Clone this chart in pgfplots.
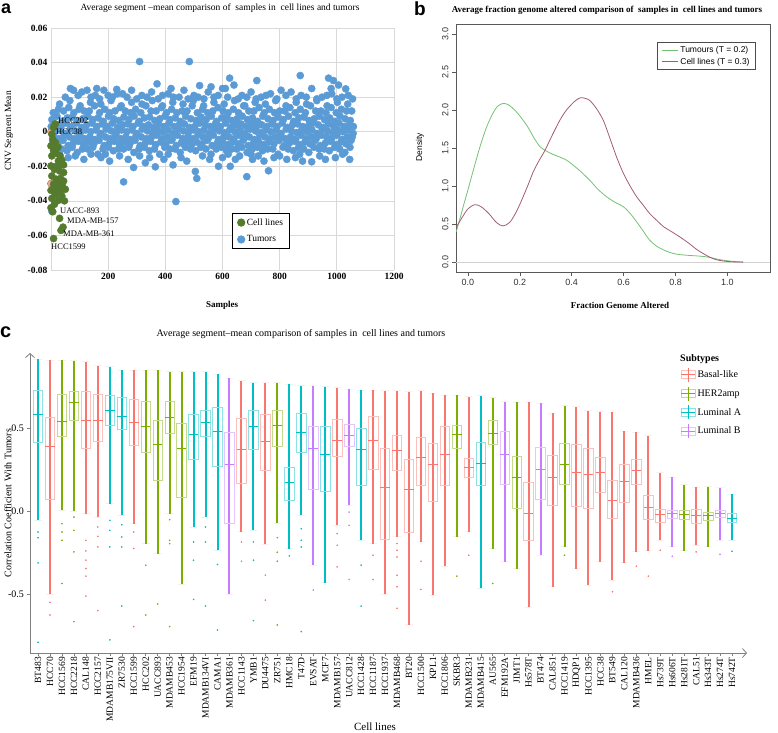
\documentclass[border=0pt]{standalone}
\usepackage{fontspec}
\setmainfont{Liberation Serif}
\setsansfont{Liberation Sans}
\usepackage{pgfplots}
\pgfplotsset{compat=1.18}
\usepgfplotslibrary{statistics}
\usetikzlibrary{arrows.meta}
\definecolor{xlblue}{HTML}{5B9BD5}
\definecolor{xlgreen}{HTML}{557B2F}
\definecolor{xlorange}{HTML}{E9967A}
\definecolor{rgreen}{HTML}{74C274}
\definecolor{rmaroon}{HTML}{A35B70}
\definecolor{cR}{HTML}{F8766D}
\definecolor{cG}{HTML}{7CAE00}
\definecolor{cA}{HTML}{00BFC4}
\definecolor{cB}{HTML}{C77CFF}
\pgfplotsset{dl/.style={line width=2pt, forget plot}}
\newcommand{\cb}[8]{%
  \addplot[forget plot, draw=#2, fill=#2, mark=*, mark size=0.6pt,
    boxplot prepared={draw position=#1, lower whisker=#3, lower quartile=#4,
      median=#5, upper quartile=#6, upper whisker=#7, box extend=0.8},
    boxplot/every box/.style={draw=#2!45!white, fill=none, line width=0.7pt},
    boxplot/every median/.style={draw=#2, line width=1pt},
    boxplot/every whisker/.style={draw=none}] coordinates {#8};
}
\begin{document}
\begin{tikzpicture}
\useasboundingbox (0pt,0pt) rectangle (778pt,-732pt);
% ---------------- panel a ----------------
\begin{axis}[at={(51pt,-270pt)}, anchor=south west, scale only axis,
  width=343pt, height=242pt, xmin=0, xmax=1200, ymin=-0.08, ymax=0.06,
  axis line style={draw=none}, grid=major, grid style={gray!30, line width=0.7pt},
  xtick={0,200,400,600,800,1000,1200}, xticklabels={,200,400,600,800,1000,1200},
  ytick={-0.08,-0.06,-0.04,-0.02,0,0.02,0.04,0.06},
  yticklabels={-0.08,-0.06,-0.04,-0.02,0,0.02,0.04,0.06},
  scaled y ticks=false, scaled x ticks=false,
  major tick length=0pt, ticklabel style={font=\bfseries\fontsize{9.5}{11}\selectfont},
  clip=false, reverse legend,
  legend style={at={(axis description cs:0.528,0.2355)}, anchor=north west,
    draw=black, line width=1pt, font=\fontsize{9.5}{11}\selectfont,
    inner xsep=5pt, inner ysep=3pt, row sep=5pt, legend cell align=left}]
\addplot[only marks, mark=*, mark size=3.6pt, color=xlblue, mark options={draw=none, fill=xlblue}] coordinates {
(8,0.011) (26,0.013) (44,0.012) (62,0.014) (80,0.011) (98,0.013) (116,0.012) (134,0.012) (152,0.015) (170,0.011)
(188,0.013) (206,0.011) (224,0.012) (242,0.014) (260,0.012) (278,0.011) (296,0.013) (314,0.011) (332,0.015) (350,0.012)
(368,0.012) (386,0.014) (404,0.011) (422,0.013) (440,0.011) (458,0.012) (476,0.012) (494,0.015) (512,0.011) (530,0.013)
(548,0.011) (566,0.012) (584,0.014) (602,0.012) (620,0.011) (638,0.013) (656,0.011) (674,0.015) (692,0.012) (710,0.012)
(728,0.014) (746,0.011) (764,0.013) (782,0.011) (800,0.012) (818,0.012) (836,0.014) (854,0.011) (872,0.013) (890,0.011)
(908,0.015) (926,0.012) (944,0.012) (962,0.011) (980,0.014) (998,0.011) (1016,0.013) (1034,0.012) (1052,0.012)
(3,0.007) (21,0.009) (39,0.006) (57,0.008) (75,0.0085) (93,0.0065) (111,0.0075) (129,0.009) (147,0.007) (165,0.008)
(183,0.006) (201,0.009) (219,0.0075) (237,0.0065) (255,0.0085) (273,0.007) (291,0.009) (309,0.006) (327,0.008) (345,0.0085)
(363,0.0065) (381,0.0075) (399,0.009) (417,0.007) (435,0.008) (453,0.006) (471,0.009) (489,0.0075) (507,0.0065) (525,0.0085)
(543,0.007) (561,0.009) (579,0.006) (597,0.008) (615,0.0085) (633,0.0065) (651,0.0075) (669,0.009) (687,0.007) (705,0.008)
(723,0.006) (741,0.009) (759,0.0075) (777,0.0065) (795,0.0085) (813,0.007) (831,0.009) (849,0.006) (867,0.008) (885,0.0085)
(903,0.0065) (921,0.0075) (939,0.009) (957,0.007) (975,0.008) (993,0.006) (1011,0.009) (1029,0.0075) (1047,0.0065)
(17,0.004) (35,0.003) (53,0.005) (71,0.003) (89,0.005) (107,0.0025) (125,0.004) (143,0.005) (161,0.003) (179,0.0045)
(197,0.003) (215,0.005) (233,0.0025) (251,0.004) (269,0.0045) (287,0.003) (305,0.005) (323,0.003) (341,0.004) (359,0.0025)
(377,0.0045) (395,0.003) (413,0.005) (431,0.003) (449,0.004) (467,0.0045) (485,0.0025) (503,0.003) (521,0.005) (539,0.004)
(557,0.003) (575,0.0045) (593,0.003) (611,0.005) (629,0.0025) (647,0.004) (665,0.0045) (683,0.003) (701,0.005) (719,0.003)
(737,0.004) (755,0.003) (773,0.0045) (791,0.003) (809,0.005) (827,0.0025) (845,0.004) (863,0.0045) (881,0.003) (899,0.003)
(917,0.005) (935,0.004) (953,0.0025) (971,0.0045) (989,0.003) (1007,0.005) (1025,0.003) (1043,0.004) (1058,0.003)
(13,0.000) (31,0.001) (49,-0.001) (67,0.0015) (85,0.0005) (103,-0.0005) (121,0.001) (139,0.000) (157,0.001) (175,-0.001)
(193,0.0015) (211,0.0005) (229,-0.0005) (247,0.001) (265,0.000) (283,0.001) (301,-0.001) (319,0.0015) (337,0.0005) (355,-0.0005)
(373,0.001) (391,0.000) (409,0.001) (427,-0.001) (445,0.0015) (463,0.0005) (481,-0.0005) (499,0.001) (517,0.000) (535,0.001)
(553,-0.001) (571,0.0015) (589,0.0005) (607,-0.0005) (625,0.001) (643,0.000) (661,0.001) (679,-0.001) (697,0.0015) (715,0.0005)
(733,-0.0005) (751,0.001) (769,0.000) (787,0.001) (805,-0.001) (823,0.0015) (841,0.0005) (859,-0.0005) (877,0.001) (895,0.000)
(913,0.001) (931,-0.001) (949,0.0015) (967,0.0005) (985,-0.0005) (1003,0.001) (1021,0.000) (1039,0.001) (1057,-0.001)
(10,-0.003) (28,-0.004) (46,-0.002) (64,-0.003) (82,-0.004) (100,-0.002) (118,-0.004) (136,-0.003) (154,-0.0045) (172,-0.002)
(190,-0.003) (208,-0.004) (226,-0.002) (244,-0.004) (262,-0.003) (280,-0.0045) (298,-0.002) (316,-0.003) (334,-0.004) (352,-0.003)
(370,-0.002) (388,-0.004) (406,-0.003) (424,-0.0045) (442,-0.002) (460,-0.004) (478,-0.003) (496,-0.004) (514,-0.002) (532,-0.003)
(550,-0.004) (568,-0.002) (586,-0.0045) (604,-0.003) (622,-0.003) (640,-0.004) (658,-0.002) (676,-0.004) (694,-0.003) (712,-0.0045)
(730,-0.002) (748,-0.003) (766,-0.004) (784,-0.003) (802,-0.002) (820,-0.004) (838,-0.003) (856,-0.0045) (874,-0.002) (892,-0.004)
(910,-0.003) (928,-0.004) (946,-0.002) (964,-0.003) (982,-0.004) (1000,-0.002) (1018,-0.0045) (1036,-0.003) (1054,-0.003)
(6,-0.006) (24,-0.007) (42,-0.005) (60,-0.008) (78,-0.0065) (96,-0.0055) (114,-0.0075) (132,-0.006) (150,-0.007) (168,-0.005)
(186,-0.008) (204,-0.0065) (222,-0.0055) (240,-0.0075) (258,-0.006) (276,-0.007) (294,-0.005) (312,-0.008) (330,-0.0065) (348,-0.0055)
(366,-0.0075) (384,-0.006) (402,-0.007) (420,-0.005) (438,-0.008) (456,-0.0065) (474,-0.0055) (492,-0.0075) (510,-0.006) (528,-0.007)
(546,-0.005) (564,-0.008) (582,-0.0065) (600,-0.0055) (618,-0.0075) (636,-0.006) (654,-0.007) (672,-0.005) (690,-0.008) (708,-0.0065)
(726,-0.0055) (744,-0.0075) (762,-0.006) (780,-0.007) (798,-0.005) (816,-0.008) (834,-0.0065) (852,-0.0055) (870,-0.0075) (888,-0.006)
(906,-0.007) (924,-0.005) (942,-0.008) (960,-0.0065) (978,-0.0055) (996,-0.0075) (1014,-0.006) (1032,-0.007) (1050,-0.005)
(20,-0.009) (38,-0.010) (56,-0.011) (74,-0.009) (92,-0.012) (110,-0.010) (128,-0.010) (146,-0.009) (164,-0.013) (182,-0.010)
(200,-0.009) (218,-0.011) (236,-0.010) (254,-0.010) (272,-0.009) (290,-0.012) (308,-0.010) (326,-0.009) (344,-0.011) (362,-0.010)
(380,-0.013) (398,-0.009) (416,-0.010) (434,-0.010) (452,-0.012) (470,-0.009) (488,-0.010) (506,-0.011) (524,-0.009) (542,-0.010)
(560,-0.013) (578,-0.010) (596,-0.009) (614,-0.011) (632,-0.010) (650,-0.010) (668,-0.009) (686,-0.012) (704,-0.010) (722,-0.009)
(740,-0.011) (758,-0.010) (776,-0.010) (794,-0.013) (812,-0.009) (830,-0.010) (848,-0.011) (866,-0.009) (884,-0.010) (902,-0.012)
(920,-0.009) (938,-0.010) (956,-0.010) (974,-0.011) (992,-0.009) (1010,-0.010) (1028,-0.012) (1046,-0.009)
(30,0.016) (66,0.018) (102,0.015) (138,0.017) (174,0.016) (210,0.018) (246,0.015) (282,0.017) (318,0.016) (354,0.018)
(390,0.015) (426,0.017) (462,0.016) (498,0.018) (534,0.015) (570,0.017) (606,0.016) (642,0.018) (678,0.015) (714,0.017)
(750,0.016) (786,0.018) (822,0.015) (858,0.017) (894,0.016) (930,0.018) (966,0.015) (1002,0.017) (1038,0.016)
(50,0.020) (68,0.025) (79,0.024) (95,0.021) (108,0.023) (126,0.024) (140,0.020) (155,0.021) (170,0.019) (185,0.024)
(200,0.021) (215,0.020) (232,0.022) (250,0.022) (266,0.020) (282,0.024) (300,0.019) (318,0.021) (336,0.020) (352,0.023)
(375,0.019) (390,0.021) (410,0.022) (428,0.020) (448,0.020) (465,0.024) (480,0.019) (500,0.021) (515,0.020) (535,0.019)
(550,0.023) (570,0.020) (585,0.021) (600,0.025) (618,0.020) (640,0.027) (655,0.019) (668,0.021) (685,0.020) (700,0.023)
(718,0.019) (735,0.020) (752,0.021) (768,0.022) (790,0.019) (805,0.024) (822,0.021) (840,0.023) (858,0.019) (875,0.021)
(893,0.020) (912,0.025) (930,0.019) (948,0.020) (965,0.021) (982,0.022) (1000,0.019) (1018,0.020) (1040,0.021) (1055,0.019)
(310,0.0406) (484,0.0406) (625,0.031) (720,0.0296) (872,0.0325) (971,0.031) (988,0.0296) (1006,0.027) (1031,0.0248)
(371,0.0277) (520,0.0267) (610,0.025) (560,0.026) (420,0.025) (230,0.0245) (160,0.025) (980,0.025)
(30,-0.013) (60,-0.015) (85,-0.014) (115,-0.016) (140,-0.013) (175,-0.015) (205,-0.017) (240,-0.014) (254,-0.029) (270,-0.016)
(289,-0.0207) (310,-0.014) (330,-0.018) (345,-0.015) (365,-0.0203) (395,-0.016) (427,-0.0192) (437,-0.0404) (455,-0.015) (475,-0.017)
(505,-0.023) (510,-0.027) (530,-0.014) (555,-0.016) (586,-0.020) (600,-0.015) (627,-0.020) (645,-0.016) (660,-0.014) (685,-0.026)
(705,-0.016) (725,-0.014) (745,-0.017) (761,-0.0226) (780,-0.015) (800,-0.014) (825,-0.016) (855,-0.015) (880,-0.017) (912,-0.0174)
(940,-0.014) (960,-0.016) (995,-0.015) (1020,-0.013) (1045,-0.016) (190,-0.013) (410,-0.013) (620,-0.013) (870,-0.013) (700,-0.013)
(1,0.003) (3,-0.046)
};
\addlegendentry{Tumors}
\addplot[only marks, mark=*, mark size=3.6pt, color=xlorange, mark options={draw=xlorange!70!black, fill=xlorange, fill opacity=0.8}, forget plot] coordinates {(0,0) (0,-0.030)};
\addplot[only marks, mark=*, mark size=3.6pt, color=xlgreen, mark options={draw=none, fill=xlgreen}] coordinates {
(15,0.0045) (9,0.0025) (3,-0.0014) (6,-0.0043) (15,-0.0062) (0,-0.0082) (24,-0.009) (9,-0.011) (18,-0.0126) (3,-0.014)
(32,-0.014) (26,-0.0169) (38,-0.0165) (32,-0.0188) (21,-0.0198) (0,-0.0198) (44,-0.0192) (12,-0.0217) (30,-0.0227) (44,-0.0236)
(3,-0.0256) (18,-0.0275) (33,-0.027) (44,-0.0285) (26,-0.0294) (9,-0.0304) (40,-0.0314) (21,-0.0327) (0,-0.0339) (32,-0.0347)
(50,-0.0333) (15,-0.0362) (38,-0.0372) (3,-0.0386) (26,-0.0397) (47,-0.040) (12,-0.042) (0,-0.044) (6,-0.0463) (30,-0.0501)
(42,-0.0552) (35,-0.0571) (9,-0.0618)
};
\addlegendentry{Cell lines}
\end{axis}
\begin{scope}[every node/.style={anchor=west, font=\fontsize{8.5}{10}\selectfont, inner sep=0pt}]
\node at (58pt,-121pt) {HCC202};
\node at (56pt,-132pt) {HCC38};
\node at (60pt,-211pt) {UACC-893};
\node at (67pt,-221pt) {MDA-MB-157};
\node at (63pt,-234pt) {MDA-MB-361};
\node at (51pt,-247pt) {HCC1599};
\end{scope}
\node[anchor=north west, inner sep=0pt, font=\sffamily\bfseries\fontsize{18}{20}\selectfont] at (1pt,-4pt) {a};
\node[font=\fontsize{9.5}{11}\selectfont] at (220pt,-8pt) {Average segment –mean comparison of\ \ samples in\ \ cell lines and tumors};
\node[rotate=90, font=\fontsize{9.5}{11}\selectfont] at (9pt,-131pt) {CNV Segment Mean};
\node[font=\bfseries\fontsize{9}{11}\selectfont] at (222pt,-305pt) {Samples};
% ---------------- panel b ----------------
\begin{axis}[at={(456pt,-272pt)}, anchor=south west, scale only axis,
  width=314pt, height=248pt, xmin=-0.046, xmax=1.164, ymin=-0.13, ymax=3.13,
  axis line style={draw=black!65, line width=0.6pt},
  xtick={0,0.2,0.4,0.6,0.8,1}, xticklabels={0.0,0.2,0.4,0.6,0.8,1.0},
  ytick={0,0.5,1,1.5,2,2.5,3}, yticklabels={0.0,0.5,1.0,1.5,2.0,2.5,3.0},
  yticklabel style={rotate=90, anchor=south},
  ticklabel style={font=\sffamily\fontsize{9}{10}\selectfont, text=black!80},
  tick align=outside, major tick length=4pt, tick style={black!65, line width=0.5pt},
  xtick pos=bottom, ytick pos=left,
  legend style={at={(axis description cs:0.955,0.927)}, anchor=north east,
    draw=black!70, line width=0.6pt, font=\sffamily\fontsize{8.5}{10}\selectfont,
    inner xsep=4pt, inner ysep=2pt, row sep=0pt, legend cell align=left},
  legend image code/.code={\draw[#1] (0pt,0pt) -- (16pt,0pt);}]
\addplot[gray!35, line width=0.6pt, forget plot] coordinates {(-0.046,0) (1.164,0)};
\addplot[rgreen, line width=0.8pt, smooth] coordinates {
(-0.045,0.40) (-0.03,0.58) (-0.015,0.77) (0.0,0.95) (0.02,1.2) (0.045,1.5) (0.07,1.76) (0.095,1.95) (0.115,2.05) (0.135,2.085)
(0.155,2.07) (0.18,2.0) (0.205,1.9) (0.23,1.78) (0.255,1.63) (0.277,1.52) (0.297,1.47) (0.325,1.42) (0.355,1.38) (0.38,1.34)
(0.40,1.29) (0.435,1.19) (0.471,1.07) (0.50,0.96) (0.535,0.857) (0.565,0.79) (0.60,0.726) (0.625,0.64) (0.65,0.53) (0.675,0.41)
(0.70,0.29) (0.727,0.21) (0.754,0.16) (0.78,0.125) (0.805,0.104) (0.83,0.094) (0.856,0.087) (0.88,0.082) (0.908,0.074) (0.935,0.06)
(0.959,0.04) (0.99,0.022) (1.02,0.01) (1.06,0.0)};
\addlegendentry{Tumours (T = 0.2)}
\addplot[rmaroon, line width=0.8pt, smooth] coordinates {
(-0.045,0.46) (-0.02,0.60) (0.0,0.70) (0.026,0.755) (0.05,0.73) (0.08,0.64) (0.11,0.52) (0.135,0.475) (0.16,0.52) (0.18,0.62)
(0.20,0.76) (0.23,1.0) (0.252,1.19) (0.275,1.34) (0.297,1.47) (0.325,1.67) (0.355,1.87) (0.38,2.0) (0.41,2.11) (0.433,2.16)
(0.455,2.15) (0.471,2.12) (0.495,2.02) (0.522,1.86) (0.55,1.6) (0.574,1.37) (0.60,1.16) (0.625,1.0) (0.65,0.86) (0.675,0.75)
(0.70,0.64) (0.727,0.55) (0.754,0.465) (0.78,0.41) (0.805,0.357) (0.83,0.30) (0.856,0.235) (0.88,0.17) (0.908,0.11) (0.935,0.06)
(0.959,0.03) (0.99,0.012) (1.02,0.004) (1.06,0.0)};
\addlegendentry{Cell lines (T = 0.3)}
\end{axis}
\node[anchor=north west, inner sep=0pt, font=\sffamily\bfseries\fontsize{19}{20}\selectfont] at (414pt,-2pt) {b};
\node[font=\bfseries\fontsize{9}{11}\selectfont] at (607pt,-10pt) {Average fraction genome altered comparison of\ \ samples in\ \ cell lines and tumors};
\node[rotate=90, font=\sffamily\fontsize{8.5}{10}\selectfont] at (420pt,-147pt) {Density};
\node[font=\bfseries\fontsize{9}{11}\selectfont] at (620pt,-305pt) {Fraction Genome Altered};
% ---------------- panel c ----------------
\begin{axis}[at={(30pt,-653pt)}, anchor=south west, scale only axis,
  width=717pt, height=300pt, xmin=0.33, xmax=60.25, ymin=-0.855, ymax=0.952,
  boxplot/draw direction=y,
  axis lines=left, axis line style={draw=gray, line width=0.8pt, -{Straight Barb[length=4pt, width=9pt]}},
  xtick={1,...,59},
  xticklabels={BT483,HCC70,HCC1569,HCC2218,CAL148,HCC2157,MDAMB175VII,ZR7530,HCC1599,HCC202,UACC893,MDAMB453,HCC1954,EFM19,MDAMB134VI,CAMA1,MDAMB361,HCC1143,YMB1,DU4475,ZR751,HMC18,T47D,EVSAT,MCF7,MDAMB157,UACC812,HCC1428,HCC1187,HCC1937,MDAMB468,BT20,HCC1500,KPL1,HCC1806,SKBR3,MDAMB231,MDAMB415,AU565,EFM192A,JIMT1,Hs578T,BT474,CAL851,HCC1419,HDQP1,HCC1395,HCC38,BT549,CAL120,MDAMB436,HMEL,Hs739T,Hs606T,Hs281T,CAL51,Hs343T,Hs274T,Hs742T},
  xticklabel style={rotate=90, anchor=east, font=\fontsize{9.5}{10}\selectfont, inner sep=1.5pt},
  ytick={-0.5,0,0.5}, yticklabels={-0.5,0.0,0.5},
  yticklabel style={font=\fontsize{10}{11}\selectfont},
  tick style={gray, line width=0.5pt}, tick align=outside, major tick length=2.5pt,
  clip=false,
  legend style={at={(axis description cs:0.907,0.953)}, anchor=north west,
    draw=none, fill=none, font=\fontsize{10}{11}\selectfont,
    inner sep=0pt, row sep=4pt, legend cell align=left}]
% dense point columns (range of the plotted correlations)
\addplot[dl, draw=cA] coordinates {(1,-0.056) (1,0.914)};
\addplot[dl, draw=cR] coordinates {(2,-0.50) (2,0.908)};
\addplot[dl, draw=cG] coordinates {(3,0.004) (3,0.908)};
\addplot[dl, draw=cG] coordinates {(4,0.0) (4,0.904)};
\addplot[dl, draw=cR] coordinates {(5,-0.016) (5,0.898)};
\addplot[dl, draw=cR] coordinates {(6,-0.036) (6,0.874)};
\addplot[dl, draw=cA] coordinates {(7,0.044) (7,0.868)};
\addplot[dl, draw=cA] coordinates {(8,-0.026) (8,0.848)};
\addplot[dl, draw=cR] coordinates {(9,-0.076) (9,0.848)};
\addplot[dl, draw=cG] coordinates {(10,-0.196) (10,0.848)};
\addplot[dl, draw=cG] coordinates {(11,-0.256) (11,0.848)};
\addplot[dl, draw=cG] coordinates {(12,-0.016) (12,0.84)};
\addplot[dl, draw=cG] coordinates {(13,-0.44) (13,0.84)};
\addplot[dl, draw=cA] coordinates {(14,-0.096) (14,0.84)};
\addplot[dl, draw=cA] coordinates {(15,-0.036) (15,0.84)};
\addplot[dl, draw=cA] coordinates {(16,-0.236) (16,0.824)};
\addplot[dl, draw=cB] coordinates {(17,-0.50) (17,0.80)};
\addplot[dl, draw=cR] coordinates {(18,-0.126) (18,0.784)};
\addplot[dl, draw=cA] coordinates {(19,-0.116) (19,0.774)};
\addplot[dl, draw=cR] coordinates {(20,-0.20) (20,0.774)};
\addplot[dl, draw=cG] coordinates {(21,-0.072) (21,0.774)};
\addplot[dl, draw=cA] coordinates {(22,-0.226) (22,0.764)};
\addplot[dl, draw=cA] coordinates {(23,-0.026) (23,0.754)};
\addplot[dl, draw=cB] coordinates {(24,-0.326) (24,0.754)};
\addplot[dl, draw=cA] coordinates {(25,-0.432) (25,0.75)};
\addplot[dl, draw=cR] coordinates {(26,-0.086) (26,0.744)};
\addplot[dl, draw=cB] coordinates {(27,0.034) (27,0.734)};
\addplot[dl, draw=cA] coordinates {(28,-0.176) (28,0.728)};
\addplot[dl, draw=cR] coordinates {(29,-0.196) (29,0.728)};
\addplot[dl, draw=cR] coordinates {(30,-0.50) (30,0.724)};
\addplot[dl, draw=cR] coordinates {(31,-0.156) (31,0.724)};
\addplot[dl, draw=cR] coordinates {(32,-0.686) (32,0.72)};
\addplot[dl, draw=cR] coordinates {(33,-0.186) (33,0.724)};
\addplot[dl, draw=cR] coordinates {(34,-0.506) (34,0.71)};
\addplot[dl, draw=cR] coordinates {(35,-0.332) (35,0.698)};
\addplot[dl, draw=cG] coordinates {(36,-0.156) (36,0.698)};
\addplot[dl, draw=cR] coordinates {(37,-0.126) (37,0.688)};
\addplot[dl, draw=cA] coordinates {(38,-0.466) (38,0.694)};
\addplot[dl, draw=cG] coordinates {(39,-0.226) (39,0.684)};
\addplot[dl, draw=cB] coordinates {(40,-0.306) (40,0.658)};
\addplot[dl, draw=cG] coordinates {(41,-0.346) (41,0.654)};
\addplot[dl, draw=cR] coordinates {(42,-0.58) (42,0.654)};
\addplot[dl, draw=cB] coordinates {(43,-0.266) (43,0.648)};
\addplot[dl, draw=cR] coordinates {(44,-0.456) (44,0.588)};
\addplot[dl, draw=cG] coordinates {(45,-0.216) (45,0.634)};
\addplot[dl, draw=cR] coordinates {(46,-0.346) (46,0.628)};
\addplot[dl, draw=cR] coordinates {(47,-0.446) (47,0.604)};
\addplot[dl, draw=cR] coordinates {(48,-0.306) (48,0.598)};
\addplot[dl, draw=cR] coordinates {(49,-0.416) (49,0.594)};
\addplot[dl, draw=cR] coordinates {(50,-0.312) (50,0.48)};
\addplot[dl, draw=cR] coordinates {(51,-0.246) (51,0.474)};
\addplot[dl, draw=cR] coordinates {(52,-0.24) (52,0.454)};
\addplot[dl, draw=cR] coordinates {(53,-0.176) (53,0.23)};
\addplot[dl, draw=cB] coordinates {(54,-0.216) (54,0.204)};
\addplot[dl, draw=cG] coordinates {(55,-0.24) (55,0.158)};
\addplot[dl, draw=cR] coordinates {(56,-0.206) (56,0.144)};
\addplot[dl, draw=cG] coordinates {(57,-0.216) (57,0.148)};
\addplot[dl, draw=cB] coordinates {(58,-0.176) (58,0.14)};
\addplot[dl, draw=cA] coordinates {(59,-0.176) (59,0.10)};
% boxes
\cb{1}{cA}{-0.056}{0.414}{0.58}{0.73}{0.914}{(1,-0.126)(1,-0.16)(1,-0.312)(1,-0.79)}
\cb{2}{cR}{-0.50}{0.068}{0.39}{0.564}{0.908}{(2,-0.55)(2,-0.626)}
\cb{3}{cG}{0.004}{0.448}{0.54}{0.704}{0.908}{(3,-0.076)(3,-0.126)(3,-0.176)(3,-0.436)}
\cb{4}{cG}{0.0}{0.548}{0.654}{0.724}{0.904}{(4,-0.036)(4,-0.116)(4,-0.246)(4,-0.666)}
\cb{5}{cR}{-0.016}{0.38}{0.548}{0.72}{0.898}{(5,-0.176)(5,-0.24)(5,-0.296)(5,-0.346)(5,-0.392)(5,-0.512)}
\cb{6}{cR}{-0.036}{0.42}{0.544}{0.704}{0.874}{(6,-0.096)(6,-0.152)(6,-0.216)(6,-0.6)}
\cb{7}{cA}{0.044}{0.514}{0.608}{0.70}{0.868}{(7,-0.056)(7,-0.116)(7,-0.216)(7,-0.776)}
\cb{8}{cA}{-0.026}{0.494}{0.568}{0.684}{0.848}{(8,-0.082)(8,-0.156)(8,-0.216)(8,-0.572)}
\cb{9}{cR}{-0.076}{0.394}{0.534}{0.674}{0.848}{(9,-0.126)(9,-0.226)(9,-0.696)}
\cb{10}{cG}{-0.196}{0.352}{0.512}{0.658}{0.848}{(10,-0.326)(10,-0.626)}
\cb{11}{cG}{-0.256}{0.184}{0.404}{0.548}{0.848}{(11,-0.56)}
\cb{12}{cG}{-0.016}{0.47}{0.564}{0.66}{0.84}{(12,-0.052)(12,-0.176)(12,-0.196)(12,-0.696)}
\cb{13}{cG}{-0.44}{0.08}{0.374}{0.528}{0.84}{}
\cb{14}{cA}{-0.096}{0.314}{0.464}{0.584}{0.84}{(14,-0.186)(14,-0.296)(14,-0.532)}
\cb{15}{cA}{-0.036}{0.448}{0.534}{0.608}{0.84}{(15,-0.096)(15,-0.186)(15,-0.572)}
\cb{16}{cA}{-0.236}{0.272}{0.478}{0.624}{0.824}{(16,-0.322)(16,-0.716)}
\cb{17}{cB}{-0.50}{-0.072}{0.28}{0.474}{0.80}{}
\cb{18}{cR}{-0.126}{0.168}{0.37}{0.56}{0.784}{(18,-0.186)(18,-0.302)}
\cb{19}{cA}{-0.116}{0.374}{0.508}{0.604}{0.774}{(19,-0.186)(19,-0.296)(19,-0.66)}
\cb{20}{cR}{-0.20}{0.244}{0.418}{0.584}{0.774}{(20,-0.386)(20,-0.536)}
\cb{21}{cG}{-0.072}{0.388}{0.514}{0.608}{0.774}{(21,-0.16)(21,-0.248)(21,-0.302)(21,-0.686)}
\cb{22}{cA}{-0.226}{0.064}{0.174}{0.264}{0.764}{(22,-0.27)}
\cb{23}{cA}{-0.026}{0.352}{0.474}{0.588}{0.754}{(23,-0.106)(23,-0.176)(23,-0.216)(23,-0.726)}
\cb{24}{cB}{-0.326}{0.13}{0.378}{0.512}{0.754}{(24,-0.476)}
\cb{25}{cA}{-0.432}{0.12}{0.338}{0.512}{0.75}{}
\cb{26}{cR}{-0.086}{0.33}{0.428}{0.55}{0.744}{(26,-0.136)(26,-0.206)(26,-0.336)}
\cb{27}{cB}{0.034}{0.388}{0.458}{0.524}{0.734}{(27,-0.006)(27,-0.086)(27,-0.412)}
\cb{28}{cA}{-0.176}{0.152}{0.372}{0.5}{0.728}{(28,-0.326)(28,-0.572)}
\cb{29}{cR}{-0.196}{0.254}{0.424}{0.572}{0.728}{(29,-0.266)(29,-0.412)}
\cb{30}{cR}{-0.50}{-0.172}{0.144}{0.38}{0.724}{}
\cb{31}{cR}{-0.156}{0.244}{0.364}{0.458}{0.724}{(31,-0.196)(31,-0.236)(31,-0.276)(31,-0.386)(31,-0.456)(31,-0.586)}
\cb{32}{cR}{-0.686}{-0.13}{0.132}{0.31}{0.72}{}
\cb{33}{cR}{-0.186}{0.156}{0.324}{0.444}{0.724}{(33,-0.302)(33,-0.472)}
\cb{34}{cR}{-0.506}{0.056}{0.28}{0.408}{0.71}{}
\cb{35}{cR}{-0.332}{0.156}{0.338}{0.508}{0.698}{}
\cb{36}{cG}{-0.156}{0.38}{0.464}{0.518}{0.698}{(36,-0.392)}
\cb{37}{cR}{-0.126}{0.204}{0.264}{0.316}{0.688}{(37,-0.266)}
\cb{38}{cA}{-0.466}{0.156}{0.284}{0.414}{0.694}{}
\cb{39}{cG}{-0.226}{0.40}{0.47}{0.544}{0.684}{(39,-0.436)}
\cb{40}{cB}{-0.306}{0.158}{0.338}{0.478}{0.658}{}
\cb{41}{cG}{-0.346}{0.014}{0.20}{0.332}{0.654}{}
\cb{42}{cR}{-0.58}{-0.176}{-0.016}{0.176}{0.654}{}
\cb{43}{cB}{-0.266}{0.072}{0.248}{0.384}{0.648}{}
\cb{44}{cR}{-0.456}{0.034}{0.204}{0.334}{0.588}{}
\cb{45}{cG}{-0.216}{0.16}{0.28}{0.408}{0.634}{(45,-0.266)}
\cb{46}{cR}{-0.346}{0.028}{0.232}{0.40}{0.628}{}
\cb{47}{cR}{-0.446}{0.014}{0.22}{0.378}{0.604}{}
\cb{48}{cR}{-0.306}{0.11}{0.234}{0.324}{0.598}{}
\cb{49}{cR}{-0.416}{-0.046}{0.062}{0.184}{0.594}{(49,-0.486)}
\cb{50}{cR}{-0.312}{0.05}{0.176}{0.28}{0.48}{}
\cb{51}{cR}{-0.246}{0.158}{0.244}{0.312}{0.474}{(51,-0.332)}
\cb{52}{cR}{-0.24}{-0.05}{0.02}{0.092}{0.454}{(52,-0.392)}
\cb{53}{cR}{-0.176}{-0.066}{-0.022}{0.008}{0.23}{(53,-0.236)}
\cb{54}{cB}{-0.216}{-0.042}{-0.016}{0.004}{0.204}{(54,-0.272)}
\cb{55}{cG}{-0.24}{-0.052}{-0.02}{0.004}{0.158}{}
\cb{56}{cR}{-0.206}{-0.072}{-0.026}{0.008}{0.144}{(56,-0.246)}
\cb{57}{cG}{-0.216}{-0.056}{-0.026}{-0.008}{0.148}{}
\cb{58}{cB}{-0.176}{-0.04}{-0.016}{0.004}{0.14}{(58,-0.26)}
\cb{59}{cA}{-0.176}{-0.068}{-0.042}{-0.016}{0.10}{(59,-0.242)}
\addlegendimage{legend image code/.code={\draw[cR!45!white, line width=0.7pt] (0pt,-4pt) rectangle (14pt,4pt); \draw[cR, line width=1pt] (0pt,0pt) -- (14pt,0pt); \draw[cR, line width=0.8pt] (7pt,-7pt) -- (7pt,7pt);}}
\addlegendentry{Basal-like}
\addlegendimage{legend image code/.code={\draw[cG!45!white, line width=0.7pt] (0pt,-4pt) rectangle (14pt,4pt); \draw[cG, line width=1pt] (0pt,0pt) -- (14pt,0pt); \draw[cG, line width=0.8pt] (7pt,-7pt) -- (7pt,7pt);}}
\addlegendentry{HER2amp}
\addlegendimage{legend image code/.code={\draw[cA!45!white, line width=0.7pt] (0pt,-4pt) rectangle (14pt,4pt); \draw[cA, line width=1pt] (0pt,0pt) -- (14pt,0pt); \draw[cA, line width=0.8pt] (7pt,-7pt) -- (7pt,7pt);}}
\addlegendentry{Luminal A}
\addlegendimage{legend image code/.code={\draw[cB!45!white, line width=0.7pt] (0pt,-4pt) rectangle (14pt,4pt); \draw[cB, line width=1pt] (0pt,0pt) -- (14pt,0pt); \draw[cB, line width=0.8pt] (7pt,-7pt) -- (7pt,7pt);}}
\addlegendentry{Luminal B}
\end{axis}
\node[anchor=north west, inner sep=0pt, font=\sffamily\bfseries\fontsize{20}{22}\selectfont] at (0pt,-327pt) {c};
\node[font=\fontsize{10}{12}\selectfont] at (301pt,-334pt) {Average segment–mean comparison of samples in\ \ cell lines and tumors};
\node[rotate=90, font=\fontsize{10}{12}\selectfont] at (8pt,-503pt) {Correlation Coefficient With Tumors};
\node[font=\fontsize{11}{13}\selectfont] at (375pt,-727pt) {Cell lines};
\node[anchor=west, inner sep=0pt, font=\bfseries\fontsize{10}{12}\selectfont] at (680pt,-359pt) {Subtypes};
\end{tikzpicture}
\end{document}
